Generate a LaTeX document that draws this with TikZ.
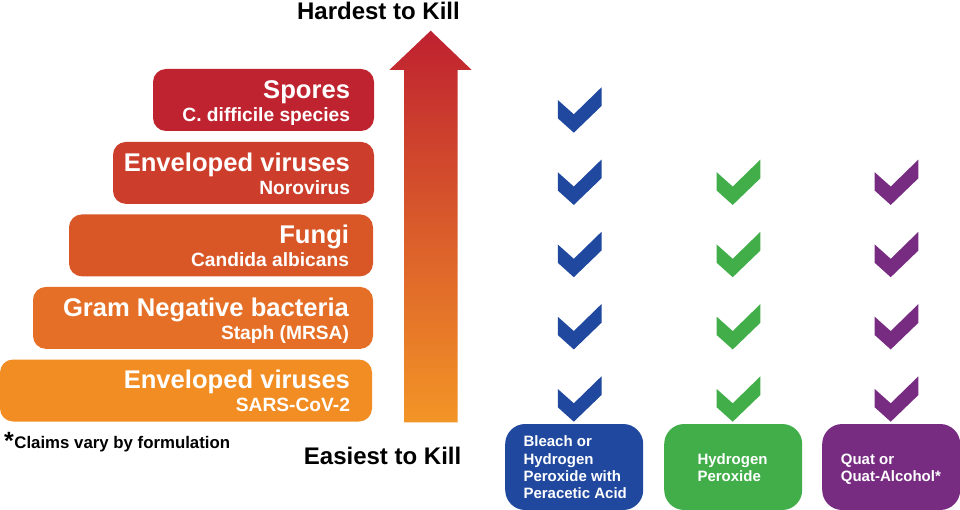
\documentclass[tikz,border=0pt]{standalone}
\usepackage{fontspec}
\setmainfont{Liberation Sans}
\usetikzlibrary{calc}
\definecolor{tA}{RGB}{191,35,48}
\definecolor{tB}{RGB}{204,62,43}
\definecolor{tC}{RGB}{217,87,38}
\definecolor{tD}{RGB}{229,111,38}
\definecolor{tE}{RGB}{241,141,35}
\definecolor{arrtop}{RGB}{191,33,48}
\definecolor{arrbot}{RGB}{243,149,38}
\definecolor{cblue}{RGB}{31,72,158}
\definecolor{cgreen}{RGB}{66,174,74}
\definecolor{cpurple}{RGB}{119,44,130}
\begin{document}
\begin{tikzpicture}[x=1pt,y=-1pt,
  tier/.style={fill=#1, rounded corners=13pt, minimum height=62pt, inner sep=0pt},
  ttl/.style={text=white, font=\bfseries\fontsize{25.6}{28}\selectfont, inner sep=0pt, anchor=base east},
  sub/.style={text=white, font=\bfseries\fontsize{19.2}{22}\selectfont, inner sep=0pt, anchor=base east},
  prod/.style={fill=#1, rounded corners=20pt, minimum width=138pt, minimum height=86pt, inner sep=0pt},
  prodtxt/.style={text=white, font=\bfseries\fontsize{15}{17.3}\selectfont, inner sep=0pt, anchor=base west, align=left},
  lbl/.style={text=black, font=\bfseries\fontsize{24}{28}\selectfont, inner sep=0pt, anchor=base east},
  chk/.pic={\fill[pic actions] (0,0) -- (-16,-14.4) -- (-16,-32.7) -- (0,-18.4) -- (27.7,-45.4) -- (27.7,-26.7) -- cycle;}
]
\useasboundingbox (0,0) rectangle (960,510);

% tiers
\node[tier=tA, minimum width=221pt] (t1) at (263.5,100) {};
\node[tier=tB, minimum width=261pt] (t2) at (243.5,172.9) {};
\node[tier=tC, minimum width=304pt] (t3) at (221,245.4) {};
\node[tier=tD, minimum width=340pt] (t4) at (203,317.9) {};
\node[tier=tE, minimum width=372pt] (t5) at (186,390.5) {};

\node[ttl] (t1a) at ($(t1.north east)+(-24,29.5)$) {Spores};
\node[sub] (t1b) at ($(t1.north east)+(-24,52.5)$) {C. difficile species};
\node[ttl] (t2a) at ($(t2.north east)+(-24,29.5)$) {Enveloped viruses};
\node[sub] (t2b) at ($(t2.north east)+(-24,52.5)$) {Norovirus};
\node[ttl] (t3a) at ($(t3.north east)+(-24,29.5)$) {Fungi};
\node[sub] (t3b) at ($(t3.north east)+(-24,52.5)$) {Candida albicans};
\node[ttl] (t4a) at ($(t4.north east)+(-24,29.5)$) {Gram Negative bacteria};
\node[sub] (t4b) at ($(t4.north east)+(-24,52.5)$) {Staph (MRSA)};
\node[ttl] (t5a) at ($(t5.north east)+(-22,29.5)$) {Enveloped viruses};
\node[sub] (t5b) at ($(t5.north east)+(-22,52.5)$) {SARS-CoV-2};

% footnote
\node[inner sep=0pt, anchor=base west, font=\bfseries\fontsize{16.8}{20}\selectfont] (note) at (4,448.3)
  {\raisebox{-1.5pt}{\fontsize{25}{25}\selectfont *}\kern0.5pt Claims vary by formulation};

% big arrow
\shade[top color=arrtop, bottom color=arrbot]
  (430.7,30.7) -- (471.7,70) -- (457.5,70) -- (457.5,422.3) -- (404,422.3) -- (404,70) -- (389.3,70) -- cycle;
\node[lbl] (hard) at (460,19.5) {Hardest to Kill};
\node[lbl] (easy) at (461.5,464) {Easiest to Kill};

% product boxes
\node[prod=cblue] (pb) at (574.2,467) {};
\node[prod=cgreen] (pg) at (733.2,467) {};
\node[prod=cpurple] (pp) at (891.2,467) {};
\node[prodtxt] (pbt) at (523.3,498.6) {Bleach or\\Hydrogen\\Peroxide with\\Peracetic Acid};
\node[prodtxt] (pgt) at (697.3,481.3) {Hydrogen\\Peroxide};
\node[prodtxt] (ppt) at (840.7,481.3) {Quat or\\Quat-Alcohol*};

% checks
\foreach \r in {0,1,2,3,4} {
  \pic[fill=cblue] at (573.8,132.7+72.25*\r) {chk};
}
\foreach \r in {1,2,3,4} {
  \pic[fill=cgreen] at (732.7,132.7+72.25*\r) {chk};
  \pic[fill=cpurple] at (890.7,132.7+72.25*\r) {chk};
}
\end{tikzpicture}
\end{document}
